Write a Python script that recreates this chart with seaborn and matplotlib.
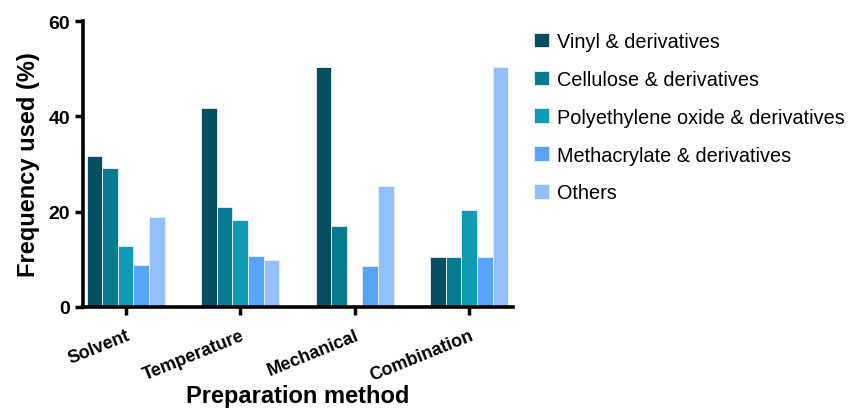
import pandas as pd
import matplotlib.pyplot as plt
import seaborn as sns

# Données
methods = ["Solvent", "Temperature", "Mechanical", "Combination"]
polymers = ["Vinyl & derivatives", "Cellulose & derivatives",
            "Polyethylene oxide & derivatives", "Methacrylate & derivatives", "Others"]
vinyl = [31.7, 41.8, 50.3, 10.4]
cellulose = [29.2, 21.0, 17.0, 10.4]
peo = [12.7, 18.3, 0.0, 20.3]
methacrylate = [8.9, 10.7, 8.6, 10.4]
others = [18.8, 9.8, 25.3, 50.3]
colors = ["#054E5F", "#077B8F", "#0F9BB2", "#58A4FC", "#93C0FA"]

values = [vinyl, cellulose, peo, methacrylate, others]
df = pd.DataFrame([
    {"method": m, "polymer": p, "freq": v[i]}
    for p, v in zip(polymers, values) for i, m in enumerate(methods)
])

sns.set_style("ticks")
plt.rcParams["font.family"] = ["Liberation Sans", "DejaVu Sans"]
plt.rcParams.update({"text.color": "black", "axes.labelcolor": "black",
                     "xtick.color": "black", "ytick.color": "black",
                     "axes.edgecolor": "black"})

fig = plt.figure(figsize=(8.49, 4.10), dpi=100)
ax = fig.add_axes([0.098, 0.249, 0.506, 0.697])

sns.barplot(data=df, x="method", y="freq", hue="polymer", palette=colors,
            saturation=1, width=0.68, edgecolor="#e8f0f4", linewidth=0.6, ax=ax)

ax.set_ylim(0, 60)
ax.set_xlim(-0.37, 3.38)
ax.set_yticks([0, 20, 40, 60])
ax.tick_params(axis="both", width=2.5, length=6, labelsize=14)
ax.tick_params(axis="x", pad=8)
for lab in ax.get_yticklabels():
    lab.set_fontweight("bold")
ax.set_xticks(range(len(methods)))
ax.set_xticklabels(methods, rotation=22, ha="right", rotation_mode="anchor",
                   fontweight="bold", fontsize=13)
for s in ["left", "bottom"]:
    ax.spines[s].set_linewidth(2.6)
sns.despine(ax=ax)

ax.set_ylabel("Frequency used (%)", fontsize=17, fontweight="bold", labelpad=6)
ax.set_xlabel("Preparation method", fontsize=17, fontweight="bold")
ax.xaxis.set_label_coords(0.5, -0.27)

ax.legend(loc="upper left", bbox_to_anchor=(1.03, 0.99), frameon=False,
          fontsize=14.3, handlelength=0.75, handleheight=0.75, labelspacing=0.95,
          handletextpad=0.45, borderaxespad=0)

fig.savefig("out.png", dpi=100)
